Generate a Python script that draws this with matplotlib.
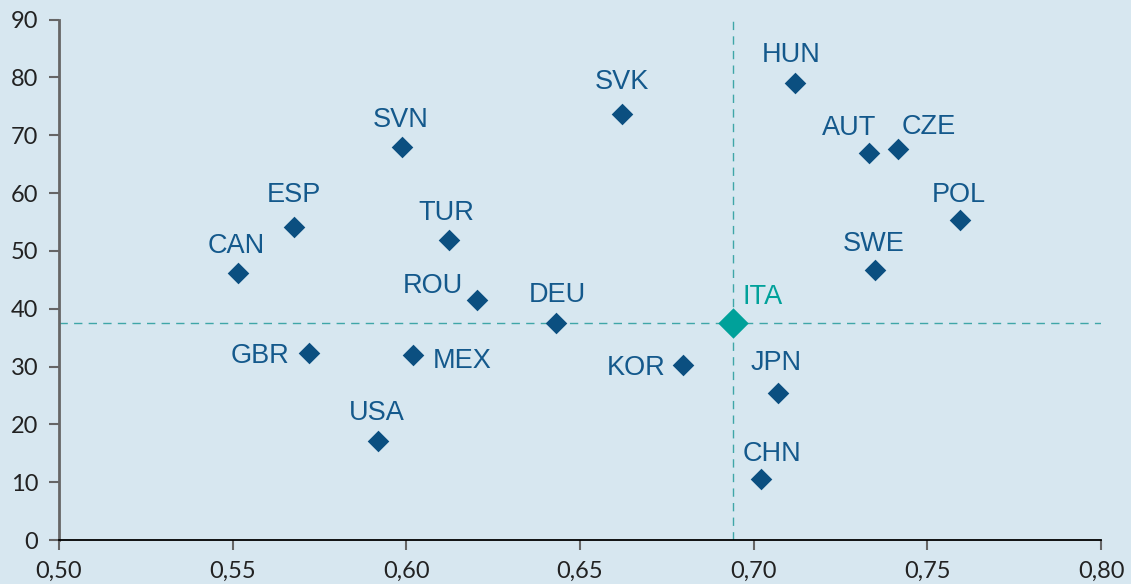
import matplotlib.pyplot as plt
from matplotlib.ticker import FuncFormatter

countries = ["CAN", "ESP", "GBR", "USA", "SVN", "MEX", "TUR", "ROU", "DEU", "SVK",
             "KOR", "CHN", "JPN", "HUN", "AUT", "SWE", "CZE", "POL"]
x_vals = [0.5515, 0.5677, 0.5720, 0.5918, 0.5988, 0.6019, 0.6123, 0.6204, 0.6431, 0.6621,
          0.6797, 0.7021, 0.7070, 0.7119, 0.7332, 0.7350, 0.7416, 0.7594]
y_vals = [46.1, 54.1, 32.3, 17.1, 67.9, 32.0, 51.9, 41.5, 37.5, 73.6,
          30.3, 10.5, 25.4, 79.0, 66.9, 46.7, 67.6, 55.3]

ita_x = 0.694
ita_y = 37.5

# label offsets in points (dx, dy, ha)
offsets = {
    "CAN": (-1, 20, "center"), "ESP": (0, 23, "center"), "GBR": (-14, -2, "right"),
    "USA": (-1, 20, "center"), "SVN": (-1, 20, "center"), "MEX": (14, -4, "left"),
    "TUR": (-2, 19, "center"), "ROU": (-10, 10, "right"), "DEU": (1, 20, "center"),
    "SVK": (0, 23, "center"), "KOR": (-13, -2, "right"), "CHN": (8, 18, "center"),
    "JPN": (-1, 22, "center"), "HUN": (-3, 20, "center"), "AUT": (-14, 18, "center"),
    "SWE": (-1, 19, "center"), "CZE": (22, 16, "center"), "POL": (-1, 18, "center"),
}

bg = "#d7e7f0"
navy = "#0b4f80"
label_col = "#14598c"
teal = "#00a19a"

fig = plt.figure(figsize=(11.31, 5.84), dpi=100, facecolor=bg)
ax = fig.add_axes([0.0522, 0.0753, 0.9213, 0.8913], facecolor=bg)

ax.axvline(ita_x, color="#3fa6a8", lw=1.0, dashes=(6, 4.5), zorder=1)
ax.axhline(ita_y, color="#3fa6a8", lw=1.0, dashes=(6, 4.5), zorder=1)

ax.scatter(x_vals, y_vals, marker="D", s=11 ** 2, color=navy, zorder=3, linewidths=0)
ax.scatter([ita_x], [ita_y], marker="D", s=15.5 ** 2, color=teal, zorder=4, linewidths=0)

for name, xv, yv in zip(countries, x_vals, y_vals):
    dx, dy, ha = offsets[name]
    ax.annotate(name, (xv, yv), xytext=(dx, dy), textcoords="offset points",
                ha=ha, va="center", fontsize=19.5, color=label_col,
                family="Liberation Sans")
ax.annotate("ITA", (ita_x, ita_y), xytext=(7, 19), textcoords="offset points",
            ha="left", va="center", fontsize=19.5, color=teal, family="Liberation Sans")

ax.set_xlim(0.50, 0.80)
ax.set_ylim(0, 90)
ax.set_xticks([0.50, 0.55, 0.60, 0.65, 0.70, 0.75, 0.80])
ax.set_yticks(range(0, 91, 10))
ax.xaxis.set_major_formatter(FuncFormatter(lambda v, p: f"{v:.2f}".replace(".", ",")))

for s in ["top", "right"]:
    ax.spines[s].set_visible(False)
ax.spines["left"].set_color("#666666")
ax.spines["left"].set_linewidth(2)
ax.spines["bottom"].set_color("black")
ax.spines["bottom"].set_linewidth(1.3)

ax.tick_params(axis="both", colors="#666666", labelcolor="#222222",
               length=7, width=1.5, labelsize=17, pad=8)
for lab in ax.get_xticklabels() + ax.get_yticklabels():
    lab.set_family("Lato")

fig.savefig("out.png", dpi=100, facecolor=bg)
